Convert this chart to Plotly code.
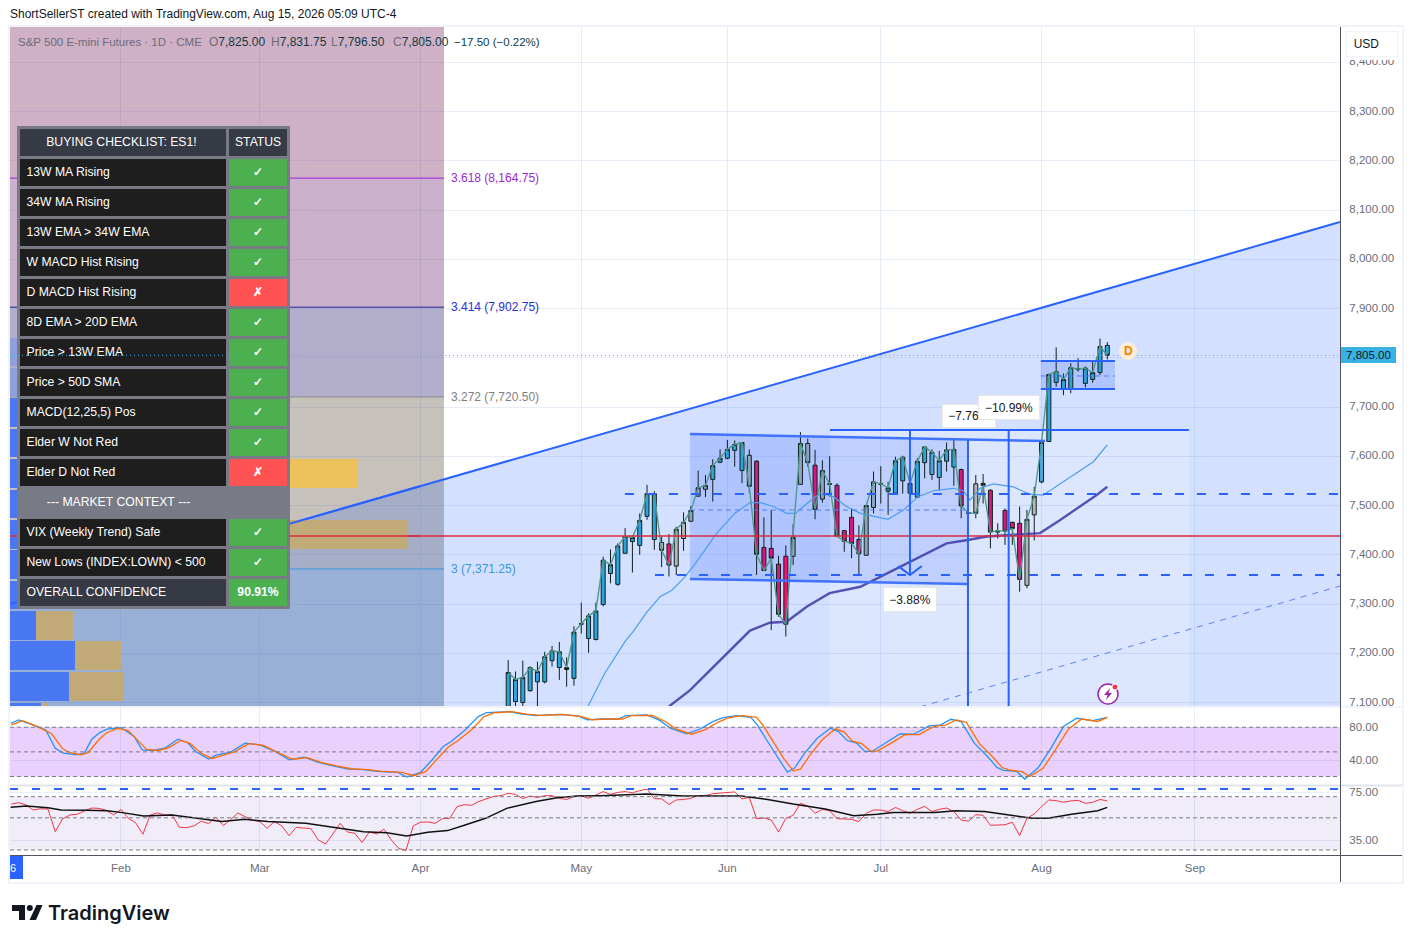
import plotly.graph_objects as go

W = 1412
H = 943

# daily bars of ES1!, first visible bar is index 53 (bar 0 = first bar of Feb)
BAR_START = 53
OPEN = [7092, 7102, 7100, 7124, 7142, 7142, 7185, 7171, 7167, 7149, 7259, 7230, 7228, 7299, 7362, 7340, 7403, 7427, 7419, 7478, 7431,
        7425, 7422, 7377, 7433, 7468, 7519, 7533, 7553, 7588, 7596, 7612, 7571, 7602, 7590, 7415, 7413, 7381, 7397, 7397, 7543, 7626, 7582, 7513,
        7543, 7541, 7449, 7476, 7431, 7399, 7496, 7543, 7529, 7525, 7550, 7525, 7517, 7587, 7563, 7557, 7590, 7578, 7573, 7484, 7544, 7545, 7531, 7446, 7490, 7466, 7464, 7338, 7481,
        7548, 7630, 7750, 7736, 7736, 7776, 7748, 7756, 7770, 7825]
HIGH = [7186, 7163, 7185, 7174, 7183, 7203, 7215, 7223, 7192, 7255, 7303, 7281, 7303, 7396, 7411, 7423, 7454, 7440, 7484, 7542, 7529,
        7437, 7442, 7457, 7486, 7499, 7571, 7562, 7594, 7614, 7633, 7632, 7628, 7614, 7592, 7476, 7491, 7398, 7419, 7462, 7649, 7636, 7613, 7592,
        7600, 7545, 7449, 7494, 7460, 7501, 7569, 7580, 7548, 7599, 7601, 7545, 7596, 7619, 7614, 7611, 7628, 7633, 7575, 7503, 7562, 7564, 7533, 7464, 7494, 7467, 7498, 7491, 7538,
        7630, 7768, 7821, 7768, 7789, 7799, 7782, 7795, 7839, 7831.75]
LOW = [7073, 7092, 7093, 7122, 7092, 7139, 7173, 7146, 7132, 7134, 7240, 7201, 7226, 7295, 7342, 7337, 7403, 7364, 7400, 7471, 7410,
       7375, 7356, 7359, 7408, 7468, 7518, 7517, 7508, 7586, 7594, 7579, 7545, 7526, 7359, 7368, 7247, 7274, 7234, 7379, 7542, 7579, 7472, 7506,
       7518, 7437, 7406, 7393, 7360, 7399, 7484, 7504, 7481, 7524, 7524, 7511, 7515, 7555, 7552, 7531, 7569, 7540, 7474, 7473, 7474, 7504, 7413, 7433, 7420, 7420, 7325, 7332, 7429,
       7545, 7630, 7741, 7724, 7728, 7772, 7740, 7749, 7765, 7796.5]
CLOSE = [7161, 7147, 7151, 7171, 7163, 7193, 7205, 7203, 7171, 7243, 7260, 7276, 7286, 7389, 7380, 7418, 7437, 7435, 7470, 7524, 7524,
         7409, 7379, 7452, 7466, 7490, 7536, 7541, 7581, 7596, 7614, 7624, 7628, 7539, 7401, 7368, 7393, 7279, 7259, 7435, 7626, 7587, 7492, 7571,
         7544, 7438, 7427, 7423, 7402, 7500, 7548, 7544, 7536, 7591, 7598, 7545, 7590, 7619, 7608, 7591, 7613, 7614, 7499, 7485, 7484, 7541, 7446, 7449, 7448, 7453, 7350, 7472, 7519,
         7628, 7766, 7772, 7756, 7780, 7777, 7779, 7770, 7823, 7805]
BAR_COLOR = ["blue"] * 21 + ["gray", "hot", "gray", "gray", "slate", "slate", "slate", "blue", "blue", "blue", "blue", "blue", "slate",
             "pink", "pink", "pink", "pink", "hot", "slate", "slate", "slate", "pink", "slate",
             "slate", "pink", "pink", "pink", "pink", "slate", "slate", "slate", "blue", "blue", "blue", "blue", "blue", "blue",
             "lblue", "lblue", "blue", "blue", "pink", "slate", "gray", "pink", "pink", "slate", "pink", "hot", "pink", "gray", "gray",
             "lblue"] + ["blue"] * 9
CANDLE_COLORS = {"blue": "#2ba3db", "lblue": "#4ea6dd", "gray": "#b6b6b6", "slate": "#8fa3bf", "pink": "#d4187f", "hot": "#f7106c"}

# moving averages on price, x in bar index
EMA_X = [63.9, 66.2, 69, 70.1, 72, 73.8, 75.4, 77.2, 78.8, 81.5, 84, 86.1, 87.5, 89.3, 91.1, 92.3, 93.9, 95.7, 97.5, 99.3, 101.2, 105, 107.1,
         109.1, 111.2, 113.9, 115.3, 116.2, 117.6, 119.4, 122.1, 124.4, 126.2, 129, 131.7, 133.1, 135]
EMA_Y = [7092, 7159, 7224, 7244, 7284, 7315, 7328, 7355, 7386, 7443, 7484, 7506, 7506, 7498, 7484, 7484, 7504, 7525, 7518, 7498, 7484, 7472, 7491,
         7518, 7530, 7535, 7530, 7511, 7535, 7544, 7538, 7523, 7521, 7548, 7575, 7589, 7623]
SMA_X = [75, 77.9, 80.2, 83.4, 86.1, 88.8, 91.1, 93.9, 97, 101.2, 106.6, 113, 115.9, 118.5, 125.8, 128.5, 133.5, 135]
SMA_Y = [7092, 7125, 7159, 7207, 7246, 7262, 7264, 7295, 7322, 7335, 7376, 7423, 7430, 7437, 7444, 7470, 7521, 7538]

# stochastic pane
STOCH_K_X = [-15.1, -14, -12.1, -10.3, -9, -7.9, -6.1, -5, -4, -2.9, -1.9, 0, 1.8, 2.9, 4.4, 6, 7.8, 9.1, 10.2, 12, 13, 14.9, 17, 19, 21.1, 23, 25.1, 26.9,
             29, 31.1, 33.2, 35, 37.9, 39.1, 41, 42.6, 44.1, 45.2, 47.1, 48.9, 50, 53.1, 54.9, 56.8, 59.9, 62.6, 63.8, 65.6, 68, 69.1, 72, 73.8, 75.2, 77.4,
             79.2, 81, 82.4, 84.2, 86.2, 87.1, 88.5, 89.9, 91.2, 92.2, 93.5, 95.3, 97.1, 98.2, 99.4, 100.7, 101.8, 102.8, 104.6, 106.6, 108.5, 110.6, 112.2,
             113.6, 115, 116.8, 118.6, 119.9, 120.8, 122.6, 123.7, 125.5, 127.3, 129, 130.8, 133, 135]
STOCH_K = [84.8, 88.9, 82.8, 76.7, 54.5, 48.5, 46.4, 48.5, 65.4, 73.5, 77.6, 79.6, 68.7, 52.5, 51.7, 54.5, 65.4, 61.4, 50.5, 41.2, 46, 49.3, 60.6, 58.6, 50.5, 40.4, 43.6, 37.5,
           33.1, 29.1, 28.3, 26.2, 25, 19.4, 25, 40.4, 56.5, 62.6, 76.7, 92.9, 97.7, 99, 96.1, 94.1, 95.7, 93.7, 88.9, 90, 89.7, 94.1, 94.9, 88, 78.8, 71.9,
           77.5, 86.8, 91.7, 94.1, 92.1, 82.8, 62.6, 42.4, 25.4, 30.3, 47.7, 66.6, 78.8, 74.7, 63.8, 60.6, 50.5, 50.5, 60.6, 71.9, 71.5, 81.6, 82.8,
           89.7, 86.8, 60.6, 44.4, 31.1, 27.5, 26.2, 16.9, 30.3, 54.5, 80.8, 90.9, 88, 92.1]
STOCH_D_X = [-15, -13.5, -11.5, -9.5, -8, -7, -5.5, -4.5, -3, -2, -0.5, 1, 2.3, 3.5, 5, 6.5, 8.2, 9.5, 11, 12.5, 14, 15.5, 17.5, 19.5, 21.5, 23.5, 25.5, 27.5,
             29.5, 31.5, 33.7, 35.5, 38.5, 40, 41.7, 43.2, 44.8, 46, 48, 49.7, 51, 53.5, 55.5, 57.5, 60.5, 63.2, 64.5, 66.3, 68.7, 69.8, 72.7, 74.5, 75.9, 78.1,
             80, 81.7, 83, 85, 87, 87.9, 89.3, 90.7, 92, 93, 94.3, 96, 97.8, 99, 100.1, 101.4, 102.6, 103.5, 105.3, 107.3, 109.2, 111.3, 112.9,
             114.3, 115.7, 117.5, 119.3, 120.6, 121.5, 123.3, 124.4, 126.2, 128, 129.7, 131.5, 133.7, 135]
STOCH_D = [82.8, 88, 81, 72, 54, 49, 46.5, 49, 65, 73, 78.5, 76, 64, 53, 51.7, 55, 64, 60, 48, 42, 46, 50, 60, 58, 49, 41, 43, 37,
           33, 29.5, 28.5, 26.5, 25, 21, 26, 40, 56, 63, 77, 93, 97.5, 99, 96, 94.5, 95.5, 92.5, 89, 90, 90, 94, 94.5, 87, 78, 71.5,
           77, 86, 91, 94, 92, 82, 62, 42, 27, 29, 46, 65, 78, 74, 63, 60, 51, 51, 60, 71, 71, 81, 82.5,
           89, 86, 60, 44, 31, 28, 26, 20, 30, 54, 78, 90, 87, 92]

# rsi pane, one value per bar from index -15
RSI_START = -15
RSI = [62.3, 63.6, 61.3, 56.6, 57.8, 57.5, 40.1, 49.1, 52.3, 52.9, 55.8, 58.4, 58.1, 56.3, 52.3, 57.2, 49.6, 46.3, 38.5, 52.3, 54, 52.3, 52.3, 43, 42.8, 44, 47.4, 45.6, 50.6, 44.2,
       48.6, 54, 50.9, 48.3, 47.1, 42.3, 47.1, 44, 37.7, 43, 42.5, 42.1, 35.2, 33, 38.7, 45.8, 39.9, 39.1, 33.8, 39.9, 38.7, 41.7, 35.2, 30.8, 29.7, 44, 46.6, 46.8, 45.8, 49.3,
       49.6, 59.7, 61.6, 61, 64.9, 67.9, 70.3, 71.1, 73.8, 72.6, 67.9, 70.7, 69.1, 71.1, 71.1, 68.1, 66.9, 70, 71.1, 68.1, 72, 75.8, 72.6, 74.9, 75.8, 74.5, 77, 79, 67.9, 67.5,
       61.9, 66.4, 66.9, 68.1, 71.1, 71.1, 73.4, 74.1, 75, 75.4, 67.5, 69.1, 49.3, 49.9, 48.3, 39.9, 49.6, 52, 63, 60.3, 53.7, 57.2, 56, 49.3, 49.1, 48.8, 47.1, 53.7, 56.6, 56.6,
       55.2, 59, 56, 53.7, 57.2, 60, 55.2, 57.2, 58.4, 55.2, 48.3, 47.4, 52.6, 52, 44.4, 44.6, 44.8, 46.6, 37.7, 49.6, 53.2, 59.7, 66.4, 65.7, 64, 65.4, 66, 63, 64, 66.9, 65.4]
RSI_MA_X = [-15.1, -12.9, -10, -8.2, -4.8, -1.9, 0.2, 3.1, 7, 10.7, 13.8, 17, 20.1, 25.3, 29, 33.2, 36.4, 39.1, 42, 44.7, 47.1, 49.9, 52.8, 56.8, 59.9, 62.5,
            65.6, 72, 77, 84.9, 88.5, 92, 96.4, 100.3, 103.5, 105.7, 111.4, 114.3, 118.2, 122.2, 124.7, 126.9, 130.1, 133.7, 135]
RSI_MA = [59.1, 60.3, 58.7, 56.6, 56.3, 56, 54.3, 51.5, 52.3, 49.6, 47.1, 48.8, 47.1, 45.8, 43, 40.1, 39.5, 37.5, 39.7, 40.8, 44.6, 49.6, 58.1, 64.7, 69.1, 70.7,
          71.1, 73, 70.7, 70.7, 66.9, 62.2, 57.5, 51.7, 53, 54.5, 54.3, 56, 55.2, 51.7, 49.6, 49.6, 53, 56, 59]

# axes
MONTH_TICKS = [0, 19, 41, 63, 83, 104, 126, 147]
MONTH_LABELS = ["Feb", "Mar", "Apr", "May", "Jun", "Jul", "Aug", "Sep"]
PRICE_TICKS = [7100, 7200, 7300, 7400, 7500, 7600, 7700, 7800, 7900, 8000, 8100, 8200, 8300, 8400]
# the 7,800 label sits behind the last price tag
PRICE_LABELS = ["7,100.00", "7,200.00", "7,300.00", "7,400.00", "7,500.00", "7,600.00", "7,700.00", "", "7,900.00", "8,000.00", "8,100.00", "8,200.00", "8,300.00", "8,400.00"]
X_RANGE = [-15.19, 166.85]
PRICE_RANGE = [7090.9, 8471.6]
STOCH_RANGE = [9.7, 104.6]
RSI_RANGE = [1.4425, 1.9212]

# fibonacci levels, label, price, colour
FIB_LABELS = ["3.618 (8,164.75)", "3.414 (7,902.75)", "3.272 (7,720.50)", "3 (7,371.25)"]
FIB_PRICES = [8164.75, 7902.75, 7720.5, 7371.25]
FIB_COLORS = ["#9c27d0", "#2a2fd0", "#808080", "#3a96dd"]
FIB_LINES = ["#a020e0", "#25208f", "#8a8a8a", "#3a96dd"]
FIB_END = 44.21

# volume profile rows
VP_PRICE = [7811.8, 7750, 7688.4, 7626.7, 7565, 7503, 7441.6, 7380, 7318, 7256, 7195, 7133, 7071]
VP_BLUE = [70, 75, 90, 110, 200, 120, 200, 90, 29, 26, 65, 59, 31]
VP_TAN = [30, 40, 60, 60, 148, 70, 197, 40, 29, 37, 46, 55, 7]
VP_BLUE_COLOR = ["#8f9fdc", "#8f9fdc"] + ["#4a78f2"] * 11
VP_TAN_COLOR = ["#b9ae9a", "#b9ae9a", "#c4ae7c", "#c4ae7c", "#ecc15a"] + ["#c1aa78"] * 8

# checklist table
CHECK_ROWS = ["13W MA Rising", "34W MA Rising", "13W EMA > 34W EMA", "W MACD Hist Rising", "D MACD Hist Rising", "8D EMA > 20D EMA", "Price > 13W EMA",
              "Price > 50D SMA", "MACD(12,25,5) Pos", "Elder W Not Red", "Elder D Not Red", "--- MARKET CONTEXT ---", "VIX (Weekly Trend) Safe",
              "New Lows (INDEX:LOWN) < 500", "OVERALL CONFIDENCE"]
CHECK_STATUS = ["✓", "✓", "✓", "✓", "✗", "✓", "✓", "✓", "✓", "✓", "✗", "", "✓", "✓", "90.91%"]


def px(x):
    return x / W


def py(y):
    return 1 - y / H


FONT = "Liberation Sans"
BLUE = "#2962ff"
GRID = "rgba(41,98,200,0.11)"
TEXT_GRAY = "#6a6d78"

fig = go.Figure()

# volume profile on its own value axis
fig.add_trace(go.Bar(y=VP_PRICE, x=VP_BLUE, orientation="h", width=58, marker=dict(color=VP_BLUE_COLOR, line_width=0), xaxis="x4", yaxis="y", hoverinfo="skip"))
fig.add_trace(go.Bar(y=VP_PRICE, x=VP_TAN, orientation="h", width=58, marker=dict(color=VP_TAN_COLOR, line_width=0), xaxis="x4", yaxis="y", hoverinfo="skip"))
# the pieces of the wedge edge and the red level that cross the profile rows
fig.add_trace(go.Scatter(x=[0, 410], y=[7300, 7539], mode="lines", line=dict(color=BLUE, width=2), xaxis="x4", yaxis="y", hoverinfo="skip"))
fig.add_trace(go.Scatter(x=[0, 410], y=[7438, 7438], mode="lines", line=dict(color="rgba(220,40,60,0.75)", width=2), xaxis="x4", yaxis="y", hoverinfo="skip"))

bars = list(range(BAR_START, BAR_START + len(OPEN)))

fig.add_trace(go.Scatter(x=EMA_X, y=EMA_Y, mode="lines", line=dict(color="#4a9df0", width=1.2), hoverinfo="skip"))
fig.add_trace(go.Scatter(x=SMA_X, y=SMA_Y, mode="lines", line=dict(color="rgba(60,55,165,0.85)", width=2.4), hoverinfo="skip"))
fig.add_trace(go.Scatter(x=bars, y=CLOSE, mode="lines", line=dict(color="#4f9a8c", width=1.4), hoverinfo="skip"))

for name, color in CANDLE_COLORS.items():
    idx = [k for k, c in enumerate(BAR_COLOR) if c == name]
    style = dict(line=dict(color="#10201f", width=1), fillcolor=color)
    fig.add_trace(go.Candlestick(
        x=[bars[k] for k in idx],
        open=[OPEN[k] for k in idx],
        high=[HIGH[k] for k in idx],
        low=[LOW[k] for k in idx],
        close=[CLOSE[k] for k in idx],
        increasing=style,
        decreasing=style,
        hoverinfo="skip",
    ))

# arrow tip of the -3.88% measure
fig.add_trace(go.Scatter(x=[106.4, 107.99, 109.6], y=[7377, 7359, 7377], mode="lines", line=dict(color=BLUE, width=2), hoverinfo="skip"))

# stochastic
fig.add_trace(go.Scatter(x=STOCH_K_X, y=STOCH_K, mode="lines", line=dict(color="#2196f3", width=1.3), xaxis="x2", yaxis="y2", hoverinfo="skip"))
fig.add_trace(go.Scatter(x=STOCH_D_X, y=STOCH_D, mode="lines", line=dict(color="#ff6d00", width=1.3), xaxis="x2", yaxis="y2", hoverinfo="skip"))

# rsi
rsi_x = list(range(RSI_START, RSI_START + len(RSI)))
fig.add_trace(go.Scatter(x=rsi_x, y=RSI, mode="lines", line=dict(color="#f23645", width=1), xaxis="x3", yaxis="y3", hoverinfo="skip"))
fig.add_trace(go.Scatter(x=RSI_MA_X, y=RSI_MA, mode="lines", line=dict(color="#111111", width=1.5), xaxis="x3", yaxis="y3", hoverinfo="skip"))

for level in [80, 50, 20]:
    fig.add_trace(go.Scatter(x=X_RANGE, y=[level, level], mode="lines", line=dict(color="#787b86", width=1, dash="4px,3px"), xaxis="x2", yaxis="y2", hoverinfo="skip"))
for level in [70, 50, 30]:
    fig.add_trace(go.Scatter(x=X_RANGE, y=[level, level], mode="lines", line=dict(color="#787b86", width=1, dash="4px,3px"), xaxis="x3", yaxis="y3", hoverinfo="skip"))
fig.add_trace(go.Scatter(x=X_RANGE, y=[79, 79], mode="lines", line=dict(color=BLUE, width=2, dash="8px,14px"), xaxis="x3", yaxis="y3", hoverinfo="skip"))


# drawings go in as traces so the table stays on top of them
def seg(x0, y0, x1, y1, color=BLUE, width=2, dash="solid"):
    fig.add_trace(go.Scatter(x=[x0, x1], y=[y0, y1], mode="lines", line=dict(color=color, width=width, dash=dash), hoverinfo="skip"))


for fib_price, color in zip(FIB_PRICES, FIB_LINES):
    seg(X_RANGE[0], fib_price, FIB_END, fib_price, color=color, width=1)

seg(X_RANGE[0], 7300, X_RANGE[1], 8075.6)
seg(109.4, 7091.3, X_RANGE[1], 7336.5, width=1, dash="6px,6px", color="#5b83f5")
seg(X_RANGE[0], 7438, X_RANGE[1], 7438, color="rgba(220,40,60,0.75)", width=2)
seg(68.98, 7523.4, X_RANGE[1], 7523.4, dash="9px,13px")
seg(73.09, 7358.9, X_RANGE[1], 7358.9, dash="9px,13px")
seg(23, 7805, X_RANGE[1], 7805, color="#3db3e6", width=1, dash="1px,3px")
seg(77.88, 7645.2, 126.5, 7631, width=2.5, color="#3f72ff")
seg(77.88, 7350.8, 115.93, 7340.6, width=2.5, color="#3f72ff")
seg(97.04, 7653.3, 146.18, 7653.3, width=2)
seg(77.88, 7490.9, 115.93, 7490.9, width=1, dash="5px,4px", color="#4f7cff")
seg(125.9, 7793.4, 136.05, 7793.4)
seg(125.9, 7736.6, 136.05, 7736.6)
seg(125.9, 7763, 136.05, 7763, width=1, dash="5px,4px", color="#4f7cff")
seg(107.99, 7653.3, 107.99, 7359)
seg(115.93, 7633, 115.93, PRICE_RANGE[0])
seg(121.5, 7653.3, 121.5, PRICE_RANGE[0])

# checklist
n = len(CHECK_ROWS)
left_fill = ["#1e1e1e"] * n
left_fill[11] = "#787b86"
left_fill[14] = "#363a45"
right_fill = ["#ff5252" if s == "✗" else "#4caf50" for s in CHECK_STATUS]
right_fill[11] = "#787b86"
left_text = [r + "&nbsp;" for r in CHECK_ROWS]
left_text[11] = "\u00a0" * 6 + CHECK_ROWS[11].replace(" ", "\u00a0") + "&nbsp;"
left_text[13] = CHECK_ROWS[13].replace(" ", "\u00a0")
right_text = [f"<b>{s}</b>" if s else "" for s in CHECK_STATUS]
fig.add_trace(go.Table(
    domain=dict(x=[px(18.5), px(289)], y=[py(612), py(127)]),
    columnwidth=[210, 61],
    header=dict(values=["BUYING CHECKLIST: ES1!&nbsp;", "<b></b>STATUS"], height=30, fill_color="#363a45", line=dict(color="#787b86", width=3),
                font=dict(family=FONT, size=12.2, color="white"), align="center"),
    cells=dict(values=[left_text, right_text], height=30, fill_color=[left_fill, right_fill], line=dict(color="#787b86", width=3),
               font=dict(family=FONT, size=12.2, color="white"), align=["left", "center"]),
))

shapes = []


def zone(x0, x1, y0, y1, color, layer="below"):
    shapes.append(dict(type="rect", xref="x", yref="y", x0=x0, x1=x1, y0=y0, y1=y1, fillcolor=color, line_width=0, layer=layer))


# fib zones
zone(X_RANGE[0], FIB_END, 8164.75, PRICE_RANGE[1], "#cfb0c5")
zone(X_RANGE[0], FIB_END, 7902.75, 8164.75, "#cab0ca")
zone(X_RANGE[0], FIB_END, 7720.5, 7902.75, "#b2aecb")
zone(X_RANGE[0], FIB_END, 7371.25, 7720.5, "#c6c1ba")
zone(X_RANGE[0], FIB_END, PRICE_RANGE[0], 7371.25, "#b6c4cc")

# rising wedge fill
shapes.append(dict(type="path", xref="x", yref="y", layer="below", line_width=0, fillcolor="rgba(41,98,255,0.2)",
                   path=f"M {X_RANGE[0]} 7300 L {X_RANGE[1]} 8075.6 L {X_RANGE[1]} {PRICE_RANGE[0]} L {X_RANGE[0]} {PRICE_RANGE[0]} Z"))

# consolidation channels
shapes.append(dict(type="path", xref="x", yref="y", layer="below", line_width=0, fillcolor="rgba(41,98,255,0.21)",
                   path="M 77.88 7645.2 L 115.93 7633 L 115.93 7340.6 L 77.88 7350.8 Z"))
zone(125.9, 136.05, 7736.6, 7793.4, "rgba(41,98,255,0.21)")
zone(97.04, 146.18, PRICE_RANGE[0], 7653.3, "rgba(255,255,255,0.2)")

# dotted price line also runs over the first table column
shapes.append(dict(type="line", xref="x", yref="y", x0=X_RANGE[0], x1=14.65, y0=7805, y1=7805, line=dict(color="#3db3e6", width=1, dash="1px,3px"), layer="above"))

# pane fills
shapes.append(dict(type="rect", xref="x2", yref="y2", x0=X_RANGE[0], x1=X_RANGE[1], y0=20, y1=80, fillcolor="#ead0fd", line_width=0, layer="below"))
shapes.append(dict(type="rect", xref="x3", yref="y3", x0=X_RANGE[0], x1=X_RANGE[1], y0=30, y1=70, fillcolor="#f0ecf8", line_width=0, layer="below"))


def paper_line(x0, y0, x1, y1, color, width=1):
    shapes.append(dict(type="line", xref="paper", yref="paper", x0=px(x0), y0=py(y0), x1=px(x1), y1=py(y1), line=dict(color=color, width=width)))


def paper_poly(points, color):
    path = "M " + " L ".join(f"{px(x):.5f} {py(y):.5f}" for x, y in points) + " Z"
    shapes.append(dict(type="path", xref="paper", yref="paper", path=path, fillcolor=color, line_width=0))


def paper_circle(cx, cy, r, fill, line="rgba(0,0,0,0)", width=0):
    shapes.append(dict(type="circle", xref="paper", yref="paper", x0=px(cx - r), x1=px(cx + r), y0=py(cy + r), y1=py(cy - r),
                       fillcolor=fill, line=dict(color=line, width=width)))


# frame and pane separators
shapes.append(dict(type="rect", xref="paper", yref="paper", x0=px(9), x1=px(1403), y0=py(883), y1=py(26), line=dict(color="#f0f3fa", width=2), layer="below"))
paper_line(10, 707, 1402, 707, "#f0f3fa", 2)
paper_line(10, 785.5, 1402, 785.5, "#e0e3eb", 2)
paper_line(1340.5, 27, 1340.5, 882, "#50535e")
paper_line(10, 855.5, 1402, 855.5, "#50535e")

# date tag, event markers
shapes.append(dict(type="rect", xref="paper", yref="paper", x0=px(10), x1=px(23), y0=py(879), y1=py(856), fillcolor=BLUE, line_width=0))
paper_circle(1128, 351, 9, "#fdeed8")
paper_circle(1108, 694, 10, "white", "#9c27b0", 1.5)
paper_circle(1115, 687, 3, "#f23645", "white", 1)
paper_poly([(1110, 688), (1104, 695), (1107.5, 695), (1106, 700), (1112, 693), (1108.5, 693)], "#9c27b0")

# tradingview logo mark
paper_poly([(12, 905), (25, 905), (25, 920), (19, 920), (19, 911), (12, 911)], "#131722")
paper_circle(29.8, 908, 3, "#131722")
paper_poly([(36.5, 905), (42.5, 905), (36, 920), (29.5, 920)], "#131722")

annotations = []


def label(x, y, text, color="#131722", size=12, anchor="left", **kw):
    annotations.append(dict(xref="paper", yref="paper", x=px(x), y=py(y), text=text, showarrow=False, xanchor=anchor, yanchor="middle",
                            font=dict(family=kw.pop("family", FONT), size=size, color=color, weight=kw.pop("weight", 400)), **kw))


label(8, 14, "ShortSellerST created with TradingView.com, Aug 15, 2026 05:09 UTC-4", size=12)

# legend line
LEG_GRAY = "#6a6d78"
LEG_VAL = "#0f3d46"
label(16, 42, "S&P 500 E-mini Futures · 1D · CME", color=LEG_GRAY, size=11.5)
for x, key, val in [(207, "O", "7,825.00"), (269, "H", "7,831.75"), (329, "L", "7,796.50"), (391, "C", "7,805.00")]:
    label(x, 42, f'<span style="color:{LEG_GRAY}">{key}</span>{val}', color=LEG_VAL, size=12)
label(452, 42, "−17.50 (−0.22%)", color=LEG_VAL, size=11.5)

for text, color, y in zip(FIB_LABELS, FIB_COLORS, [178, 307, 397, 569]):
    label(449, y, text, color=color, size=12)


def tag(x0, x1, y0, y1, text, size=12, border="#e6e6e6", bg="white", color="#131722", align="center"):
    annotations.append(dict(xref="paper", yref="paper", x=px(x0), y=py(y0), xanchor="left", yanchor="top", width=x1 - x0 - 2, height=y1 - y0 - 2,
                            text=text, showarrow=False, bgcolor=bg, bordercolor=border, borderwidth=1, borderpad=0, align=align, valign="middle",
                            font=dict(family=FONT, size=size, color=color)))


tag(942, 996, 404, 428, "−7.76%")
tag(978, 1040, 395, 420, "−10.99%")
tag(883, 937, 587, 612, "−3.88%")
tag(1342, 1402, 50, 60, " ", border="white")
tag(1346, 1398, 31, 57, "&nbsp;&nbsp;USD", border="#f0f3fa", align="left")
tag(1341, 1396, 347, 363, "7,805.00", border="#38b2e5", bg="#38b2e5", size=11.5)

label(1128, 351, "D", color="#f57c00", size=12, anchor="center", weight=600)
label(13, 868, "6", color="white", size=11, anchor="center")
label(46, 913, "TradingView", color="#131722", size=20, family="Inter", weight=600)

axis_font = dict(family=FONT, size=11.5, color=TEXT_GRAY)
x_common = dict(domain=[px(10), px(1340)], range=X_RANGE, tickmode="array", tickvals=MONTH_TICKS, showgrid=True, gridcolor=GRID, gridwidth=1, zeroline=False, showline=False)
y_common = dict(side="right", showgrid=True, gridcolor=GRID, gridwidth=1, zeroline=False, showline=False, tickmode="array", tickfont=axis_font,
                ticks="outside", ticklen=6, tickcolor="rgba(0,0,0,0)")

fig.update_layout(
    width=W,
    height=H,
    autosize=False,
    margin=dict(l=0, r=0, t=0, b=0),
    paper_bgcolor="white",
    plot_bgcolor="white",
    showlegend=False,
    barmode="stack",
    boxmode="overlay",
    boxgap=0.22,
    dragmode=False,
    font=dict(family=FONT, color="#131722"),
    shapes=shapes,
    annotations=annotations,
    xaxis=dict(anchor="y", showticklabels=False, rangeslider=dict(visible=False), **x_common),
    xaxis2=dict(anchor="y2", matches="x", showticklabels=False, **x_common),
    xaxis3=dict(anchor="y3", matches="x", ticktext=MONTH_LABELS, tickfont=axis_font, ticks="outside", ticklen=2, tickcolor="rgba(0,0,0,0)", **x_common),
    xaxis4=dict(domain=[px(10), px(1340)], overlaying="x", anchor="y", range=[0, 1330], visible=False),
    yaxis=dict(anchor="x", domain=[py(707), py(27)], range=PRICE_RANGE, tickvals=PRICE_TICKS, ticktext=PRICE_LABELS, ticklabelshift=-1, **y_common),
    yaxis2=dict(anchor="x2", domain=[py(785), py(707)], range=STOCH_RANGE, tickvals=[80, 40], tickformat=".2f", **y_common),
    yaxis3=dict(anchor="x3", domain=[py(855), py(785.6)], type="log", range=RSI_RANGE, tickvals=[75, 35], tickformat=".2f", **y_common),
)

fig.write_html("out.html", post_script="document.body.style.margin='0';", config=dict(displayModeBar=False))
